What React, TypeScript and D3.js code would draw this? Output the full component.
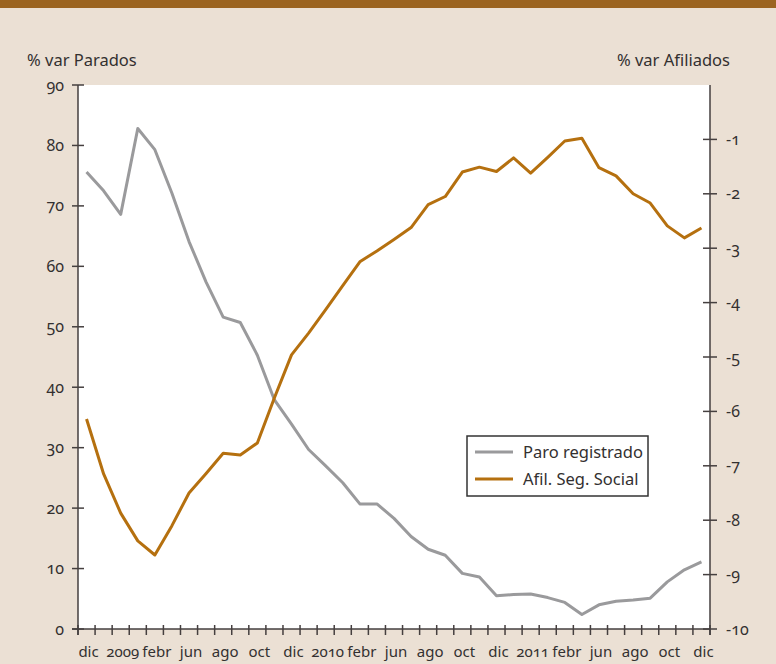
import * as d3 from "d3";

// months from dic 2008 to dic 2011
const months = d3.range(37);

const xLabels = [
  "dic", "2009", "febr", "jun", "ago", "oct", "dic", "2010", "febr", "jun",
  "ago", "oct", "dic", "2011", "febr", "jun", "ago", "oct", "dic",
];

// % var Parados (left axis)
const paro = [
  75.6, 72.5, 68.6, 82.8, 79.3, 72.1, 64.1, 57.4, 51.6, 50.7,
  45.3, 37.9, 33.9, 29.7, 27.0, 24.2, 20.7, 20.7, 18.3, 15.3,
  13.2, 12.2, 9.2, 8.6, 5.5, 5.7, 5.8, 5.2, 4.4, 2.4,
  4.0, 4.6, 4.8, 5.1, 7.8, 9.8, 11.1,
];

// % var Afiliados (right axis)
const afil = [
  -6.14, -7.15, -7.87, -8.38, -8.64, -8.1, -7.5, -7.14, -6.77, -6.8,
  -6.58, -5.75, -4.96, -4.56, -4.13, -3.69, -3.25, -3.05, -2.84, -2.62,
  -2.2, -2.05, -1.6, -1.51, -1.59, -1.34, -1.62, -1.33, -1.03, -0.98,
  -1.52, -1.67, -2.0, -2.17, -2.59, -2.81, -2.63,
];

const leftTicks = [0, 10, 20, 30, 40, 50, 60, 70, 80, 90];
const rightTicks = [-1, -2, -3, -4, -5, -6, -7, -8, -9, -10];

const W = 776, H = 664;
const plot = { left: 78, right: 710, top: 85, bottom: 629 };
const axisColor = "#453f3f";
const textColor = "#333030";
const font = "'Noto Sans', 'Open Sans', sans-serif";
const onum = { fontVariantNumeric: "oldstyle-nums" };

export default function App() {
  const x = d3.scaleBand<number>().domain(months).range([plot.left, plot.right]);
  const yL = d3.scaleLinear().domain([0, 90]).range([plot.bottom, plot.top]);
  const yR = d3.scaleLinear().domain([-10, 0]).range([plot.bottom, plot.top]);
  const cx = (i: number) => (x(i) as number) + x.bandwidth() / 2;

  const paroLine = d3.line<number>().x((_, i) => cx(i)).y((d) => yL(d));
  const afilLine = d3.line<number>().x((_, i) => cx(i)).y((d) => yR(d));

  const edges = d3.range(38).map((i) => plot.left + i * x.bandwidth());

  return (
    <svg
      width={W}
      height={H}
      style={{ position: "absolute", left: 0, top: 0, background: "#ebe0d4" }}
      fontFamily={font}
    >
      <rect x={0} y={0} width={W} height={H} fill="#ebe0d4" />
      <rect x={0} y={0} width={W} height={8} fill="#9b6420" />
      <rect
        x={plot.left}
        y={plot.top}
        width={plot.right - plot.left}
        height={plot.bottom - plot.top}
        fill="#ffffff"
      />

      {/* axis titles */}
      <text x={27} y={66} fontSize={16.5} fill={textColor}>% var Parados</text>
      <text x={730} y={66} fontSize={16.5} fill={textColor} textAnchor="end">
        % var Afiliados
      </text>

      {/* left axis */}
      <line x1={plot.left} x2={plot.left} y1={plot.top} y2={plot.bottom + 6} stroke={axisColor} strokeWidth={1.5} />
      {leftTicks.map((t) => (
        <g key={"l" + t}>
          <line x1={plot.left - 6} x2={plot.left + 6} y1={yL(t)} y2={yL(t)} stroke={axisColor} strokeWidth={1.5} />
          <text x={64} y={yL(t)} dy="0.35em" fontSize={16} textAnchor="end" fill={textColor} style={onum}>
            {t}
          </text>
        </g>
      ))}

      {/* right axis */}
      <line x1={plot.right} x2={plot.right} y1={plot.top} y2={plot.bottom + 6} stroke={axisColor} strokeWidth={1.5} />
      {rightTicks.map((t) => (
        <g key={"r" + t}>
          <line x1={plot.right - 7} x2={plot.right + 7} y1={yR(t)} y2={yR(t)} stroke={axisColor} strokeWidth={1.5} />
          <text x={726} y={yR(t)} dy="0.35em" fontSize={16} fill={textColor} style={onum}>
            {t}
          </text>
        </g>
      ))}

      {/* bottom axis */}
      <line x1={plot.left - 6} x2={plot.right} y1={plot.bottom} y2={plot.bottom} stroke={axisColor} strokeWidth={1.5} />
      {edges.map((e, i) => (
        <line key={"t" + i} x1={e} x2={e} y1={plot.bottom - 4} y2={plot.bottom + 6} stroke={axisColor} strokeWidth={1.5} />
      ))}
      {xLabels.map((l, i) => (
        <text key={"x" + i} x={cx(i * 2) + 2} y={657} fontSize={15} textAnchor="middle" fill={textColor} style={onum}>
          {l}
        </text>
      ))}

      {/* series */}
      <path d={paroLine(paro) as string} fill="none" stroke="#9a9a9c" strokeWidth={3} strokeLinejoin="round" />
      <path d={afilLine(afil) as string} fill="none" stroke="#b5700f" strokeWidth={3} strokeLinejoin="round" />

      {/* legend */}
      <rect x={467} y={436} width={181} height={60} fill="#ffffff" stroke="#333333" strokeWidth={1.5} />
      <line x1={475} x2={513} y1={452} y2={452} stroke="#9a9a9c" strokeWidth={3} />
      <line x1={475} x2={513} y1={479} y2={479} stroke="#b5700f" strokeWidth={3} />
      <text x={523} y={452} dy="0.35em" fontSize={16.5} fill={textColor}>Paro registrado</text>
      <text x={523} y={479} dy="0.35em" fontSize={16.5} fill={textColor}>Afil. Seg. Social</text>
    </svg>
  );
}
